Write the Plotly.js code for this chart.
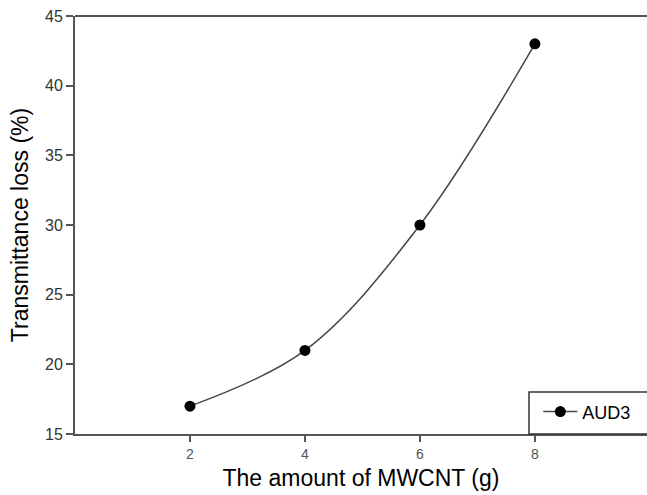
<!DOCTYPE html>
<html>
<head>
<meta charset="utf-8">
<script src="https://cdn.plot.ly/plotly-3.0.1.min.js"></script>
<style>html,body{margin:0;padding:0;background:#fff;}#chart{width:647px;height:495px;}</style>
</head>
<body>
<div id="chart"></div>
<script>
const mwcnt = [2, 4, 6, 8];
const transLoss = [17, 21, 30, 43];
const seriesName = 'AUD3';
const xTicks = [2, 4, 6, 8];
const yTicks = [15, 20, 25, 30, 35, 40, 45];

const trace = {
  x: mwcnt, y: transLoss, name: seriesName,
  type: 'scatter', mode: 'lines+markers',
  line: {shape: 'spline', smoothing: 1, color: '#444', width: 1.5},
  marker: {color: '#000', size: 11},
  cliponaxis: false
};

const layout = {
  width: 647, height: 495,
  margin: {l: 75, r: 0, t: 16, b: 61},
  paper_bgcolor: '#fff', plot_bgcolor: '#fff',
  font: {family: 'Liberation Sans, Arial, sans-serif', color: '#000'},
  showlegend: true,
  legend: {x: 0.81, y: 0.053, xanchor: 'left', yanchor: 'middle',
    bgcolor: 'rgba(0,0,0,0)', borderwidth: 0, itemwidth: 34,
    font: {size: 18, color: '#000'}},
  xaxis: {
    range: [0, 9.95], tickvals: xTicks, ticktext: xTicks.map(String),
    showline: true, linecolor: '#555', linewidth: 2,
    ticks: 'outside', ticklen: 6, tickwidth: 2, tickcolor: '#555',
    showgrid: false, zeroline: false,
    tickfont: {size: 14, color: '#555'},
    title: {text: 'The amount of MWCNT (g)', font: {size: 23, color: '#000'}, standoff: 9}
  },
  yaxis: {
    range: [15, 45], tickvals: yTicks, ticktext: yTicks.map(String),
    showline: true, linecolor: '#555', linewidth: 2,
    ticks: 'outside', ticklen: 7, tickwidth: 2, tickcolor: '#555',
    showgrid: false, zeroline: false,
    tickfont: {size: 16, color: '#333'},
    title: {text: 'Transmittance loss (%)', font: {size: 23, color: '#000'}, standoff: 10}
  },
  shapes: [
    {type: 'line', xref: 'paper', yref: 'paper', x0: 0, x1: 1.02, y0: 1, y1: 1,
      line: {color: '#555', width: 2}},
    {type: 'rect', xref: 'paper', yref: 'paper',
      x0: 0.7937, x1: 1.02, y0: 0, y1: 0.1005,
      line: {color: '#333', width: 1.5}, fillcolor: 'rgba(0,0,0,0)'}]
};

Plotly.newPlot('chart', [trace], layout, {displayModeBar: false, staticPlot: true});
</script>
</body>
</html>
